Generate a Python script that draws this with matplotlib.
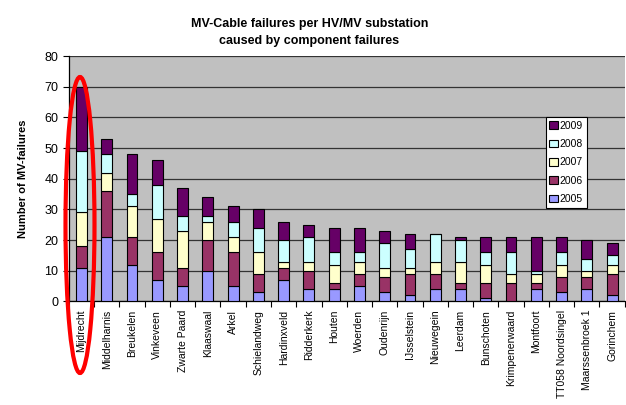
import numpy as np
import matplotlib
matplotlib.use("Agg")
import matplotlib.pyplot as plt
from matplotlib.patches import Ellipse

plt.rcParams['font.family'] = ['Liberation Sans', 'DejaVu Sans']

# -------------------------------
# Data
# -------------------------------
stations = ["Mijdrecht", "Middelharnis", "Breukelen", "Vinkeveen", "Zwarte Paard",
            "Klaaswaal", "Arkel", "Schielandweg", "Hardinxveld", "Ridderkerk",
            "Houten", "Woerden", "Oudenrijn", "IJsselstein", "Nieuwegein",
            "Leerdam", "Bunschoten", "Krimpenerwaard", "Montfoort",
            "TT058 Noordsingel", "Maarssenbroek 1", "Gorinchem"]
years = ["2005", "2006", "2007", "2008", "2009"]

f2005 = [11, 21, 12, 7, 5, 10, 5, 3, 7, 4, 4, 5, 3, 2, 4, 4, 1, 0, 4, 3, 4, 2]
f2006 = [7, 15, 9, 9, 6, 10, 11, 6, 4, 6, 2, 4, 5, 7, 5, 2, 5, 6, 2, 5, 4, 7]
f2007 = [11, 6, 10, 11, 12, 6, 5, 7, 2, 3, 6, 4, 3, 2, 4, 7, 6, 3, 3, 4, 2, 3]
f2008 = [20, 6, 4, 11, 5, 2, 5, 8, 7, 8, 4, 3, 8, 6, 9, 7, 4, 7, 1, 4, 4, 3]
f2009 = [21, 5, 13, 8, 9, 6, 5, 6, 6, 4, 8, 8, 4, 5, 0, 1, 5, 5, 11, 5, 6, 4]

colors = ["#9999FF", "#993366", "#FFFFCC", "#CCFFFF", "#660066"]

# -------------------------------
# Plot
# -------------------------------
fig = plt.figure(figsize=(6.26, 4.05), dpi=100)
ax = fig.add_axes([0.110, 0.2556, 0.888, 0.6061])
ax.set_facecolor("#C0C0C0")

x = np.arange(len(stations))
bottom = np.zeros(len(stations))
handles = []
for vals, col, yr in zip([f2005, f2006, f2007, f2008, f2009], colors, years):
    b = ax.bar(x, vals, 0.43, bottom=bottom, color=col, edgecolor="black",
               linewidth=0.8, label=yr, zorder=3)
    handles.append(b)
    bottom += np.array(vals)

ax.set_xlim(-0.5, len(stations) - 0.5)
ax.set_ylim(0, 80)
ax.set_yticks(np.arange(0, 81, 10))
ax.yaxis.grid(True, color="#333333", linewidth=0.9, zorder=0)
ax.set_axisbelow(True)

ax.set_xticks(x)
ax.set_xticklabels(stations, rotation=90, fontsize=7.5)
ax.set_xticks(np.arange(-0.5, len(stations), 1), minor=True)
ax.tick_params(axis="x", which="major", length=0, pad=6)
ax.tick_params(axis="x", which="minor", length=4, width=0.8, direction="out")
ax.tick_params(axis="y", labelsize=9, length=4, width=0.8)

for s in ["top", "right"]:
    ax.spines[s].set_visible(False)
ax.spines["left"].set_linewidth(0.9)
ax.spines["bottom"].set_linewidth(0.9)

ax.set_ylabel("Number of MV-failures", fontsize=8, fontweight="bold", labelpad=12)

fig.text(0.494, 0.955, "MV-Cable failures per HV/MV substation\ncaused by component failures",
         ha="center", va="top", fontsize=9, fontweight="bold", linespacing=1.5)

leg = ax.legend(handles[::-1], years[::-1], loc="upper left",
                bbox_to_anchor=(0.858, 0.751), fontsize=7.5, frameon=True,
                fancybox=False, edgecolor="black", framealpha=1,
                handlelength=0.8, handleheight=0.8, handletextpad=0.2,
                labelspacing=0.8, borderpad=0.35, borderaxespad=0)
leg.get_frame().set_linewidth(0.8)

# red ellipse highlighting Mijdrecht
ell = Ellipse((80 / 626, 1 - 225 / 405), 29 / 626, 296 / 405,
              transform=fig.transFigure, fill=False, edgecolor="red",
              linewidth=3, zorder=10, clip_on=False)
fig.patches.append(ell)

fig.savefig("out.png", dpi=100)
